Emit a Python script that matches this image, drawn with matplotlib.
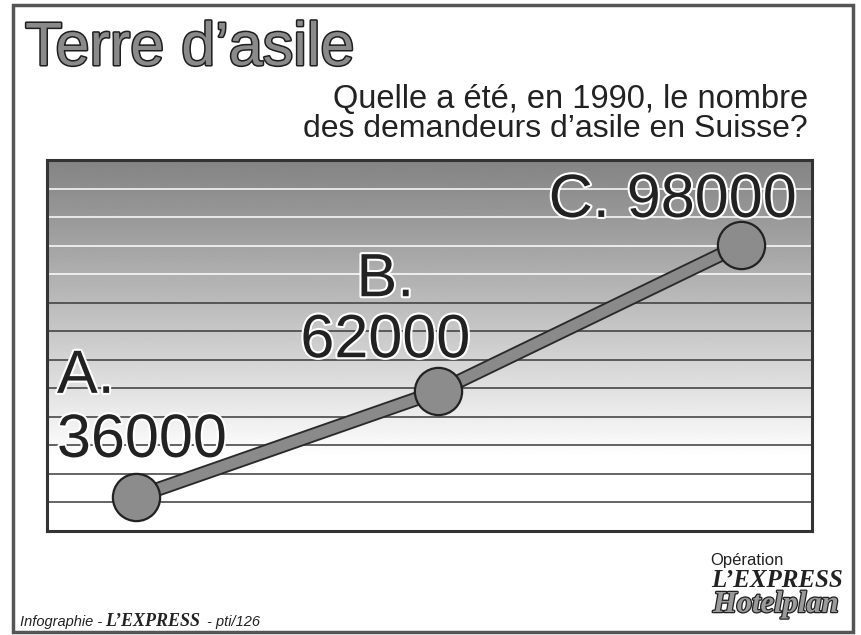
import matplotlib
matplotlib.use('Agg')
import matplotlib.pyplot as plt
import matplotlib.patheffects as pe
import numpy as np

plt.rcParams['font.family'] = ['Liberation Sans', 'DejaVu Sans']

# données
labels = ['A.', 'B.', 'C.']
values = [36000, 62000, 98000]
xpos = [0, 1, 2]

title = "Terre d\u2019asile"
question = ["Quelle a été, en 1990, le nombre",
            "des demandeurs d\u2019asile en Suisse?"]

W, H = 862, 635


def px(x, y):  # pixels (haut-gauche) -> coordonnées figure
    return x / W, 1 - y / H


fig = plt.figure(figsize=(W / 100, H / 100), dpi=100)
fig.patch.set_facecolor('white')

# cadre extérieur
fig.add_artist(plt.Rectangle(px(13, 632), 840 / W, 627 / H, fill=False,
                             ec='#555555', lw=2.5, transform=fig.transFigure))

ax = fig.add_axes([47 / W, 104 / H, 765 / W, 371 / H])
ax.set_xlim(-0.294, 2.235)
ax.set_ylim(27600, 118900)
ax.set_xticks([])
ax.set_yticks([])
for s in ax.spines.values():
    s.set_color('#333333')
    s.set_linewidth(2.2)

# fond dégradé
t = np.linspace(0, 1, 300)
shade = 0.52 + 0.48 * np.clip(t / 0.80, 0, 1) ** 1.1
ax.imshow(shade.reshape(-1, 1), cmap='gray', vmin=0, vmax=1, aspect='auto',
          extent=[0, 1, 0, 1], transform=ax.transAxes, zorder=0)

# lignes horizontales
for k in range(1, 13):
    f = k / 13
    col = 'white' if k >= 9 else '#3a3a3a'
    ax.plot([0, 1], [f, f], transform=ax.transAxes, color=col, lw=1.1, zorder=1)

# courbe
ax.plot(xpos, values, color='#2a2a2a', lw=10.5, solid_capstyle='butt', zorder=3)
ax.plot(xpos, values, color='#8a8a8a', lw=7.8, solid_capstyle='butt', zorder=4)
ax.plot(xpos, values, 'o', ms=34, mfc='#8c8c8c', mec='#222222', mew=1.6, zorder=5)

halo = [pe.withStroke(linewidth=3, foreground='white')]
lab_kw = dict(textcoords='offset pixels', fontsize=44, color='#222222',
              va='baseline', path_effects=halo, zorder=6)

# A. 36000
ax.annotate(labels[0], (xpos[0], values[0]), xytext=(-79, 104), ha='left', **lab_kw)
ax.annotate(f"{values[0]}", (xpos[0], values[0]), xytext=(-79, 40), ha='left', **lab_kw)
# B. 62000
ax.annotate(labels[1], (xpos[1], values[1]), xytext=(-53, 95), ha='center', **lab_kw)
ax.annotate(f"{values[1]}", (xpos[1], values[1]), xytext=(-53, 34), ha='center', **lab_kw)
# C. 98000
ax.annotate(f"{labels[2]} {values[2]}", (xpos[2], values[2]), xytext=(56, 28),
            ha='right', **lab_kw)

# titre
fig.text(*px(25, 65), title, fontsize=44, color='#8a8a8a', va='baseline',
         path_effects=[pe.withStroke(linewidth=2.2, foreground='#1e1e1e')])

fig.text(*px(808, 108), question[0], fontsize=23.5, color='#222222',
         ha='right', va='baseline')
fig.text(*px(808, 137), question[1], fontsize=23, color='#222222',
         ha='right', va='baseline')

# pied de page
fig.text(*px(20, 626), "Infographie -", fontsize=10.5, style='italic',
         color='#222222', va='baseline')
fig.text(*px(105, 626), "L\u2019EXPRESS", fontsize=13, family='Liberation Serif',
         weight='bold', style='italic', color='#222222', va='baseline')
fig.text(*px(207, 626), "- pti/126", fontsize=10.5, style='italic',
         color='#222222', va='baseline')

fig.text(*px(710, 565), "Opération", fontsize=12, color='#222222', va='baseline')
fig.text(*px(711, 587), "L\u2019EXPRESS", fontsize=18, family='Liberation Serif',
         weight='bold', style='italic', color='#222222', va='baseline')
fig.text(*px(713, 612), "Hotelplan", fontsize=22, family='Liberation Serif',
         weight='bold', style='italic', color='#9a9a9a', va='baseline',
         path_effects=[pe.withStroke(linewidth=1.8, foreground='#222222')])

fig.savefig('out.png', dpi=100, facecolor='white')
